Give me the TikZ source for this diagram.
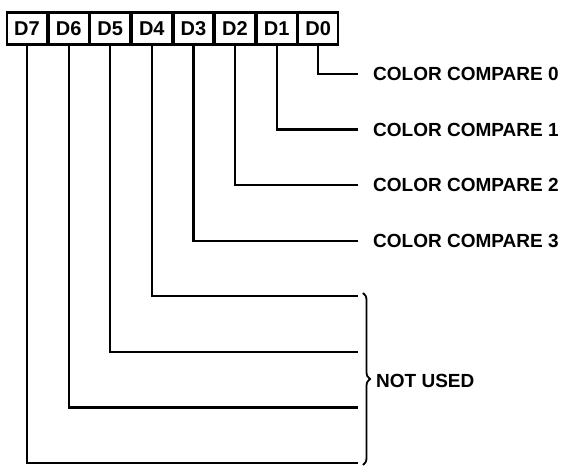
\documentclass[tikz,border=0pt]{standalone}
\usepackage{fontspec}
\setmainfont{Liberation Sans}
\usetikzlibrary{positioning,decorations.pathreplacing}

\tikzstyle{every node}=[font=\bfseries\fontsize{19}{21}\selectfont, inner sep=0pt]
\tikzstyle{bitbox}=[draw, line width=2.2pt, minimum width=40pt, minimum height=32pt,
  font=\bfseries\fontsize{20}{22}\selectfont, text height=14.3pt, text depth=0pt]
\tikzstyle{wire}=[line width=2.2pt]

\begin{document}
\begin{tikzpicture}[x=1pt, y=1pt]
  \useasboundingbox (0,0) rectangle (566,466);
  % register bits
  \node[bitbox] (d7) at (27,437.5) {D7};
  \node[bitbox] (d6) at (68.6,437.5) {D6};
  \node[bitbox] (d5) at (110.2,437.5) {D5};
  \node[bitbox] (d4) at (151.8,437.5) {D4};
  \node[bitbox] (d3) at (193.4,437.5) {D3};
  \node[bitbox] (d2) at (235,437.5) {D2};
  \node[bitbox] (d1) at (276.6,437.5) {D1};
  \node[bitbox] (d0) at (318.2,437.5) {D0};
  % line ends
  \coordinate (e0) at (358,392);
  \coordinate (e1) at (358,336.4);
  \coordinate (e2) at (358,280.8);
  \coordinate (e3) at (358,225.2);
  \coordinate (e4) at (358,169.6);
  \coordinate (e5) at (358,114);
  \coordinate (e6) at (358,58.4);
  \coordinate (e7) at (358,3);
  \node[right=15pt of e0, anchor=west] (cc0) {COLOR COMPARE 0};
  \node[right=15pt of e1, anchor=west] (cc1) {COLOR COMPARE 1};
  \node[right=15pt of e2, anchor=west] (cc2) {COLOR COMPARE 2};
  \node[right=15pt of e3, anchor=west] (cc3) {COLOR COMPARE 3};
  \draw[wire] (d0.south) |- (e0);
  \draw[wire] (d1.south) |- (e1);
  \draw[wire] (d2.south) |- (e2);
  \draw[wire] (d3.south) |- (e3);
  \draw[wire] (d4.south) |- (e4);
  \draw[wire] (d5.south) |- (e5);
  \draw[wire] (d6.south) |- (e6);
  \draw[wire] (d7.south) |- (e7);
  % unused bits
  \coordinate (b1) at (363,173);
  \coordinate (b2) at (363,1);
  \draw[line width=1.8pt, decorate, decoration={brace, amplitude=7pt}] (b1) -- (b2);
  \node[anchor=west] (nu) at (376,85) {NOT USED};
\end{tikzpicture}
\end{document}
